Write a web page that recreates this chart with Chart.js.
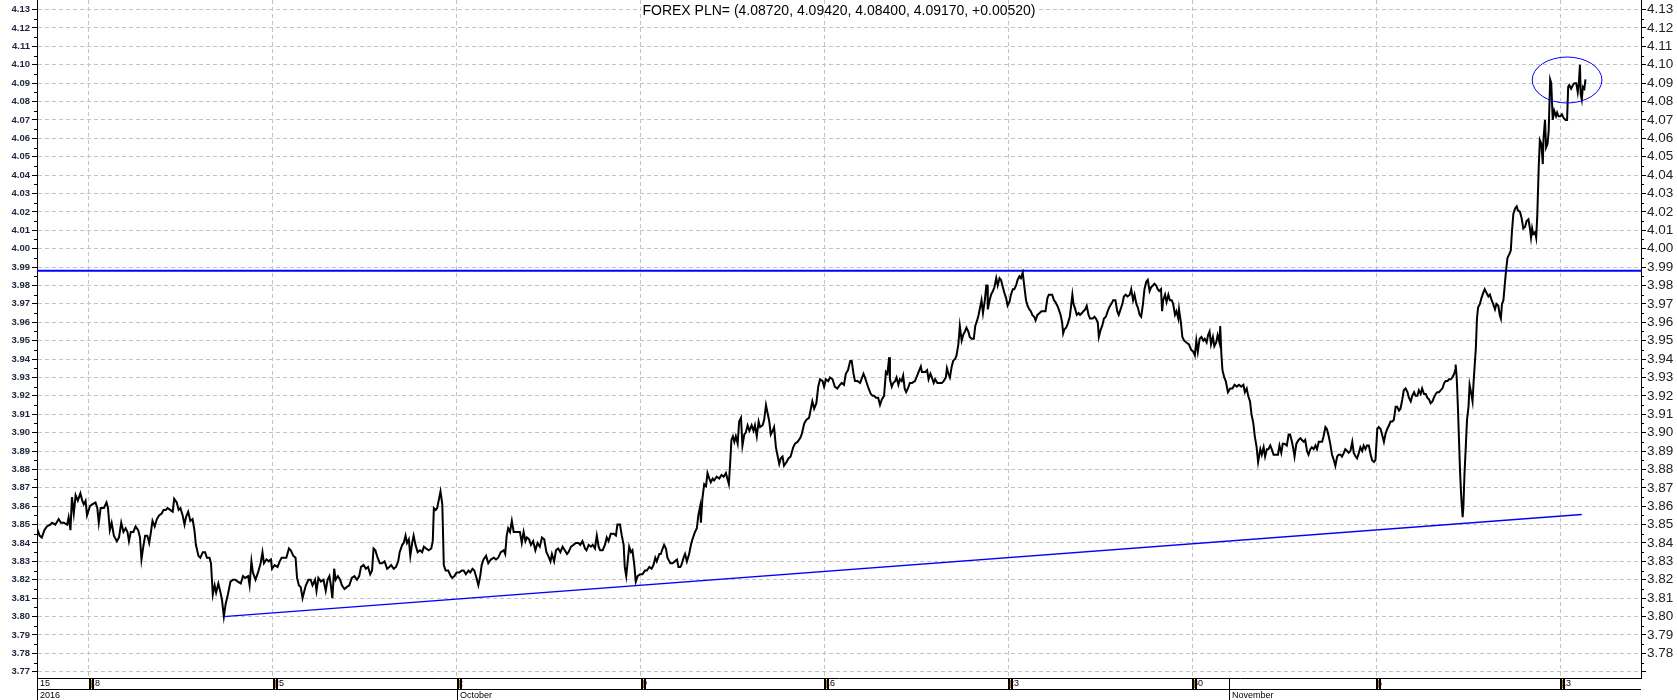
<!DOCTYPE html>
<html>
<head>
<meta charset="utf-8">
<script src="https://cdn.jsdelivr.net/npm/chart.js@4.4.1/dist/chart.umd.min.js"></script>
<style>
html, body { margin: 0; padding: 0; background: #fff; }
canvas { display: block; }
</style>
</head>
<body>
<canvas id="fx" width="1677" height="700"></canvas>
<script>
// x = trading days counted from Thu 15 Sep 2016 (5 per week), y = USD/PLN
var days = [
  // 15 Sep - 30 Sep
  0.59,0.66,0.72,0.79,0.86,0.95,1.00,1.09,1.18,1.24,
  1.32,1.41,1.45,1.50,1.54,1.59,1.64,1.70,1.77,1.82,
  1.86,1.91,1.95,2.03,2.09,2.18,2.23,2.27,2.32,2.41,
  2.48,2.52,2.57,2.62,2.68,2.76,2.82,2.88,2.94,3.00,
  3.05,3.09,3.14,3.21,3.27,3.34,3.39,3.43,3.48,3.53,
  3.59,3.64,3.68,3.73,3.79,3.85,3.91,3.98,4.03,4.09,
  4.14,4.21,4.28,4.32,4.39,4.44,4.49,4.55,4.60,4.64,
  4.70,4.76,4.82,4.87,4.91,4.98,5.03,5.10,5.16,5.21,
  5.28,5.32,5.37,5.42,5.46,5.52,5.58,5.62,5.67,5.72,
  5.78,5.85,5.92,5.98,6.05,6.13,6.19,6.25,6.33,6.37,
  6.42,6.46,6.53,6.60,6.67,6.72,6.76,6.83,6.89,6.95,
  6.98,7.05,7.13,7.19,7.24,7.31,7.37,7.44,7.49,7.56,
  7.62,7.66,7.71,7.76,7.81,7.86,7.90,7.97,8.03,8.08,
  8.15,8.19,8.24,8.31,8.38,8.44,8.49,8.54,8.58,8.62,
  8.67,8.71,8.77,8.83,8.88,8.95,9.01,9.08,9.15,9.22,
  9.29,9.35,9.40,9.47,9.53,9.59,9.65,9.70,9.74,9.79,
  9.85,9.91,9.97,10.04,10.11,10.17,10.22,10.29,10.35,10.41,
  10.45,10.52,10.56,10.61,10.65,10.70,10.74,10.79,10.83,10.88,
  10.94,11.00,11.06,11.11,11.17,11.24,11.31,11.35,11.38,11.43,
  11.47,11.52,11.56,11.61,11.65,11.70,11.77,11.84,11.88,
  // October
  11.94,12.00,12.07,12.14,12.19,12.25,12.32,12.37,12.43,12.48,
  12.54,12.59,12.64,12.68,12.73,12.80,12.86,12.93,13.01,13.07,
  13.13,13.20,13.28,13.32,13.36,13.40,13.45,13.50,13.55,13.61,
  13.68,13.72,13.77,13.82,13.87,13.91,13.97,14.02,14.08,14.14,
  14.20,14.26,14.32,14.38,14.44,14.49,14.55,14.59,14.65,14.70,
  14.76,14.82,14.88,14.94,15.00,15.04,15.11,15.18,15.24,15.31,
  15.36,15.42,15.49,15.53,15.59,15.65,15.70,15.76,15.81,15.86,
  15.90,15.97,16.03,16.08,16.13,16.19,16.27,16.33,16.37,16.44,
  16.49,16.54,16.57,16.61,16.65,16.69,16.74,16.78,16.83,16.87,
  16.92,16.99,17.05,17.12,17.17,17.24,17.30,17.35,17.40,17.44,
  17.51,17.55,17.60,17.64,17.69,17.73,17.81,17.87,17.93,17.99,
  18.03,18.08,18.11,18.17,18.21,18.26,18.32,18.37,18.41,18.48,
  18.53,18.57,18.62,18.64,18.68,18.73,18.78,18.82,18.87,18.91,
  18.96,19.00,19.07,19.14,19.20,19.26,19.32,19.36,19.40,19.44,
  19.47,19.51,19.55,19.59,19.64,19.68,19.73,19.77,19.82,19.86,
  19.91,19.96,20.02,20.07,20.11,20.16,20.21,20.25,20.32,20.36,
  20.41,20.45,20.50,20.54,20.59,20.63,20.68,20.72,20.77,20.81,
  20.86,20.90,20.97,21.02,21.08,21.15,21.20,21.27,21.34,21.38,
  21.45,21.51,21.58,21.63,21.67,21.72,21.78,21.83,21.88,21.95,
  21.99,22.04,22.10,22.15,22.22,22.28,22.35,22.42,22.47,22.53,
  22.58,22.64,22.70,22.74,22.79,22.83,22.90,22.97,
  23.06,23.10,23.15,23.20,23.26,23.31,23.35,23.40,23.46,23.51,
  23.56,23.62,23.67,23.71,23.76,23.78,23.83,23.87,23.92,23.96,
  24.01,24.05,24.10,24.14,24.18,24.22,24.27,24.32,24.38,24.46,
  24.52,24.56,24.62,24.65,24.70,24.74,24.79,24.83,24.88,24.92,
  24.97,25.01,25.07,25.13,25.19,25.24,25.30,25.33,25.37,25.41,
  25.46,25.50,25.55,25.59,25.64,25.68,25.73,25.77,25.82,25.86,
  25.91,25.95,26.00,26.06,26.10,26.15,26.19,26.24,26.27,26.31,
  26.36,26.40,26.43,26.44,26.49,26.53,26.58,26.62,26.67,26.71,
  26.76,26.80,26.85,26.89,26.94,26.98,27.03,27.07,27.12,27.16,
  27.21,27.25,27.30,27.34,27.39,27.43,27.48,27.52,27.57,27.61,
  27.65,27.70,27.74,27.79,27.85,27.90,27.97,28.01,28.06,28.10,
  28.15,28.19,28.24,28.28,28.33,28.37,28.42,28.46,28.49,28.52,
  28.57,28.61,28.67,28.70,28.74,28.77,28.82,28.86,28.91,28.95,
  29.00,29.04,29.09,29.13,29.18,29.22,29.29,29.34,29.38,29.43,
  29.46,29.51,29.55,29.60,29.65,29.70,29.74,29.80,29.85,29.91,
  29.96,30.00,30.05,30.10,30.14,30.19,30.24,30.30,30.34,30.39,
  30.43,30.48,30.52,30.57,30.61,30.66,30.70,30.75,30.79,30.84,
  30.88,30.93,30.97,31.02,31.06,31.10,31.15,31.18,31.21,31.26,
  31.30,31.35,31.39,31.44,31.48,31.53,31.57,31.62,31.64,31.69,
  31.73,31.78,31.84,31.91,31.97,32.03,32.07,32.11,32.15,32.20,
  32.25,32.30,32.34,32.39,32.43,32.47,32.51,32.56,32.60,32.65,
  32.69,32.74,32.76,32.79,32.82,32.87,32.91,32.97,
  // November
  33.03,33.09,33.15,33.21,33.27,33.33,33.39,33.43,33.48,33.52,
  33.57,33.61,33.66,33.70,33.75,33.79,
  33.85,33.89,33.94,33.98,34.03,34.07,34.12,34.16,34.21,34.25,
  34.33,34.37,34.42,34.46,34.51,34.57,34.62,34.66,34.71,34.75,
  34.78,34.83,34.89,34.94,34.98,35.03,35.07,35.12,35.16,35.21,
  35.25,35.30,35.35,35.39,35.44,35.53,35.57,35.62,35.66,35.71,
  35.75,35.80,35.85,35.89,35.94,35.98,36.03,36.07,36.12,36.16,
  36.21,36.25,36.30,36.35,36.39,36.44,36.48,36.53,36.57,36.62,
  36.66,36.71,36.75,36.80,36.85,36.89,36.94,36.98,37.03,37.07,
  37.12,37.16,37.21,37.25,37.30,37.35,37.39,37.44,37.48,37.53,
  37.57,37.62,37.66,37.71,37.75,37.80,37.85,37.89,37.94,37.98,
  38.03,38.07,38.12,38.16,38.21,38.25,38.30,38.35,38.39,38.44,
  38.48,38.53,38.57,38.62,38.66,38.71,38.75,38.80,38.85,38.89,
  38.94,38.98,39.03,39.07,39.12,39.15,39.16,39.19,39.22,39.25,
  39.28,39.31,39.35,39.37,39.40,39.44,39.47,39.51,39.54,39.57,
  39.62,39.65,39.68,39.71,39.74,39.77,39.82,39.86,39.91,39.95,
  40.00,40.05,40.09,40.14,40.18,40.23,40.27,40.32,40.36,40.39,
  40.42,40.46,40.49,40.53,40.57,40.62,40.66,40.69,40.73,40.78,
  40.82,40.85,40.91,40.95,41.00,41.05,41.09,41.14,41.18,41.21,
  41.24,41.27,41.32,41.35,41.38,41.42,41.45,41.49,41.53,41.55,
  41.59,41.62,41.66,41.69,41.73,41.76,41.80,41.84,41.89,41.92,
  41.96,42.01,42.05,42.10,42.15,42.19,42.22,42.25,42.30,42.35,
  42.39,42.44,42.48,42.51,42.54,42.56,42.59,42.62,42.66,42.69
];
var rate = [
  3.848,3.844,3.843,3.847,3.849,3.850,3.851,3.850,3.853,3.851,
  3.851,3.850,3.854,3.847,3.865,3.856,3.866,3.863,3.867,3.863,
  3.861,3.863,3.855,3.860,3.861,3.862,3.859,3.851,3.859,3.859,
  3.862,3.859,3.847,3.851,3.844,3.841,3.843,3.851,3.846,3.848,
  3.846,3.841,3.846,3.846,3.849,3.847,3.843,3.831,3.838,3.844,
  3.844,3.840,3.845,3.852,3.849,3.853,3.855,3.856,3.858,3.858,
  3.859,3.858,3.857,3.864,3.862,3.858,3.859,3.855,3.850,3.854,
  3.857,3.852,3.853,3.847,3.839,3.833,3.832,3.835,3.835,3.832,
  3.832,3.829,3.812,3.817,3.813,3.818,3.813,3.809,3.800,3.807,
  3.812,3.819,3.820,3.820,3.819,3.818,3.822,3.821,3.822,3.817,
  3.830,3.824,3.820,3.824,3.829,3.835,3.829,3.831,3.830,3.831,
  3.826,3.828,3.827,3.830,3.832,3.832,3.832,3.837,3.836,3.833,
  3.832,3.821,3.817,3.816,3.810,3.814,3.817,3.820,3.820,3.817,
  3.820,3.814,3.821,3.819,3.820,3.814,3.820,3.822,3.817,3.810,
  3.826,3.820,3.822,3.820,3.817,3.815,3.816,3.817,3.821,3.822,
  3.820,3.822,3.827,3.828,3.826,3.827,3.823,3.825,3.837,3.836,
  3.832,3.829,3.829,3.830,3.826,3.827,3.828,3.826,3.827,3.830,
  3.835,3.839,3.840,3.844,3.840,3.842,3.833,3.840,3.844,3.839,
  3.835,3.836,3.835,3.838,3.837,3.836,3.837,3.841,3.859,3.858,
  3.859,3.864,3.868,3.861,3.828,3.825,3.825,3.822,3.821,
  // October
  3.822,3.824,3.824,3.825,3.825,3.823,3.825,3.824,3.826,3.825,
  3.821,3.817,3.822,3.828,3.831,3.833,3.829,3.831,3.832,3.831,
  3.832,3.835,3.836,3.834,3.844,3.848,3.846,3.852,3.846,3.846,
  3.846,3.846,3.840,3.846,3.841,3.843,3.842,3.839,3.841,3.836,
  3.840,3.838,3.843,3.842,3.835,3.833,3.830,3.834,3.830,3.836,
  3.837,3.835,3.838,3.836,3.834,3.835,3.838,3.839,3.840,3.840,
  3.839,3.841,3.837,3.836,3.839,3.838,3.839,3.837,3.844,3.838,
  3.836,3.836,3.839,3.843,3.841,3.845,3.845,3.844,3.850,3.850,
  3.844,3.839,3.827,3.822,3.830,3.838,3.835,3.836,3.828,3.819,
  3.822,3.823,3.823,3.825,3.825,3.827,3.826,3.828,3.832,3.830,
  3.834,3.834,3.837,3.839,3.837,3.832,3.829,3.829,3.830,3.831,
  3.827,3.827,3.828,3.832,3.834,3.830,3.834,3.839,3.842,3.846,
  3.848,3.855,3.860,3.851,3.864,3.872,3.871,3.878,3.875,3.873,
  3.875,3.874,3.876,3.875,3.877,3.876,3.878,3.875,3.872,3.885,
  3.896,3.898,3.895,3.898,3.894,3.906,3.908,3.893,3.899,3.900,
  3.904,3.901,3.904,3.901,3.904,3.898,3.906,3.903,3.904,3.907,
  3.915,3.911,3.906,3.899,3.901,3.903,3.892,3.888,3.883,3.886,
  3.887,3.882,3.884,3.886,3.887,3.892,3.894,3.895,3.897,3.899,
  3.905,3.907,3.908,3.913,3.917,3.913,3.916,3.925,3.929,3.928,
  3.925,3.929,3.928,3.930,3.929,3.925,3.924,3.926,3.927,3.926,
  3.932,3.934,3.939,3.939,3.932,3.928,3.928,3.927,
  3.932,3.930,3.927,3.924,3.921,3.920,3.920,3.919,3.919,3.915,
  3.918,3.920,3.933,3.932,3.941,3.929,3.925,3.927,3.928,3.930,
  3.926,3.929,3.928,3.931,3.924,3.922,3.924,3.927,3.927,3.928,
  3.931,3.933,3.936,3.933,3.933,3.933,3.934,3.929,3.932,3.930,
  3.927,3.929,3.927,3.927,3.927,3.928,3.930,3.935,3.932,3.930,
  3.936,3.939,3.940,3.942,3.948,3.958,3.950,3.953,3.955,3.957,
  3.955,3.952,3.951,3.951,3.958,3.961,3.964,3.969,3.972,3.965,
  3.972,3.980,3.980,3.967,3.972,3.975,3.977,3.979,3.984,3.980,
  3.984,3.983,3.979,3.976,3.973,3.969,3.971,3.975,3.978,3.978,
  3.980,3.983,3.985,3.984,3.987,3.980,3.972,3.969,3.967,3.966,
  3.964,3.963,3.961,3.964,3.965,3.966,3.966,3.966,3.973,3.975,
  3.975,3.975,3.972,3.971,3.969,3.967,3.964,3.960,3.954,3.956,
  3.957,3.959,3.963,3.968,3.975,3.970,3.967,3.964,3.965,3.964,
  3.965,3.966,3.967,3.969,3.964,3.962,3.962,3.963,3.962,3.960,
  3.952,3.956,3.958,3.962,3.963,3.966,3.968,3.970,3.972,3.972,
  3.966,3.964,3.967,3.970,3.974,3.975,3.974,3.975,3.978,3.972,
  3.975,3.970,3.968,3.964,3.963,3.970,3.978,3.982,3.983,3.977,
  3.979,3.980,3.981,3.980,3.978,3.977,3.978,3.966,3.972,3.975,
  3.971,3.975,3.972,3.972,3.970,3.964,3.966,3.962,3.967,3.960,
  3.952,3.950,3.949,3.948,3.945,3.944,3.942,3.950,3.944,3.951,
  3.952,3.950,3.951,3.949,3.953,3.955,3.948,3.952,3.947,3.949,
  3.953,3.949,3.958,3.943,3.934,3.930,3.928,3.922,
  // November
  3.924,3.924,3.926,3.925,3.926,3.925,3.926,3.922,3.924,3.920,
  3.917,3.910,3.905,3.898,3.892,3.884,
  3.891,3.888,3.892,3.887,3.891,3.891,3.893,3.891,3.888,3.888,
  3.888,3.893,3.889,3.894,3.894,3.893,3.899,3.899,3.895,3.891,
  3.887,3.894,3.896,3.897,3.896,3.895,3.896,3.890,3.888,3.891,
  3.892,3.891,3.893,3.891,3.895,3.895,3.898,3.903,3.902,3.898,
  3.894,3.888,3.885,3.882,3.887,3.888,3.888,3.887,3.889,3.891,
  3.890,3.889,3.890,3.895,3.889,3.887,3.886,3.889,3.892,3.890,
  3.893,3.891,3.893,3.893,3.888,3.885,3.884,3.885,3.902,3.903,
  3.902,3.899,3.895,3.899,3.902,3.904,3.906,3.906,3.907,3.914,
  3.914,3.912,3.913,3.918,3.923,3.924,3.922,3.919,3.917,3.920,
  3.922,3.920,3.920,3.923,3.921,3.924,3.921,3.921,3.919,3.918,
  3.916,3.917,3.919,3.921,3.922,3.922,3.923,3.924,3.927,3.928,
  3.928,3.929,3.929,3.930,3.932,3.934,3.937,3.930,3.915,3.897,
  3.879,3.866,3.854,3.859,3.877,3.894,3.907,3.914,3.926,3.923,
  3.917,3.928,3.937,3.946,3.962,3.968,3.970,3.973,3.976,3.978,
  3.976,3.974,3.975,3.972,3.970,3.967,3.970,3.969,3.964,3.962,
  3.970,3.972,3.979,3.988,3.995,3.997,3.999,4.009,4.019,4.022,
  4.023,4.021,4.020,4.017,4.011,4.012,4.015,4.016,4.011,4.006,
  4.011,4.008,4.009,4.006,4.018,4.045,4.059,4.057,4.046,4.060,
  4.070,4.055,4.057,4.064,4.092,4.090,4.070,4.075,4.072,4.074,
  4.072,4.072,4.073,4.071,4.070,4.070,4.088,4.089,4.087,4.089,
  4.090,4.090,4.085,4.090,4.100,4.084,4.081,4.088,4.087,4.092
];

// axis range and ticks
var xMin = 0.59, xMax = 44.2;
var yMin = 3.7666, yMax = 4.1352;
var weekTicks  = [2, 7, 12, 17, 22, 27, 32, 37, 42];
var weekLabels = ['18', '25', '2', '9', '16', '23', '30', '6', '13'];
var firstDayLabel = '15';
var monthTicks  = [xMin, 12, 33];
var monthLabels = ['2016', 'October', 'November'];
var yTicks = [];
for (var k = 377; k <= 413; k++) yTicks.push(k / 100);

// drawn studies
var resistance = 3.988;
var trendStart = [5.66, 3.800];
var trendEnd   = [42.59, 3.8555];
var ring = { x: 42.19, y: 4.0917, rx: 0.948, ry: 0.0125 };
var title = 'FOREX PLN= (4.08720, 4.09420, 4.08400, 4.09170, +0.00520)';

var FONT = 'Liberation Sans, Arial, sans-serif';

var series = days.map(function (d, i) { return { x: d, y: rate[i] }; });

function line(ctx, x1, y1, x2, y2) {
  ctx.beginPath(); ctx.moveTo(x1, y1); ctx.lineTo(x2, y2); ctx.stroke();
}

var decor = {
  id: 'decor',
  afterDraw: function (chart) {
    var ctx = chart.ctx, a = chart.chartArea;
    var xs = chart.scales.x, ys = chart.scales.y;
    ctx.save();

    // minor ticks on both price axes
    ctx.strokeStyle = '#000'; ctx.lineWidth = 1;
    for (var k = 377; k < 413; k++) {
      var py = Math.round(ys.getPixelForValue((k + 0.5) / 100)) + 0.5;
      line(ctx, a.left - 3, py, a.left, py);
      line(ctx, a.right, py, a.right + 3, py);
    }

    // circle round the last highs
    var cx = xs.getPixelForValue(ring.x), cy = ys.getPixelForValue(ring.y);
    var rx = xs.getPixelForValue(ring.x + ring.rx) - cx;
    var ry = cy - ys.getPixelForValue(ring.y + ring.ry);
    ctx.strokeStyle = '#0000ff'; ctx.lineWidth = 1;
    ctx.beginPath(); ctx.ellipse(cx, cy, rx, ry, 0, 0, Math.PI * 2); ctx.stroke();

    // title, sitting on the top grid line
    ctx.font = '14px ' + FONT;
    var tw = ctx.measureText(title).width;
    var tx = (a.left + a.right) / 2 - tw / 2;
    ctx.fillStyle = '#fff';
    ctx.fillRect(tx - 1, 7, tw + 2, 6);
    ctx.fillStyle = '#000';
    ctx.textBaseline = 'middle';
    ctx.fillText(title, tx, 11);

    // date rows under the plot
    var r0 = a.bottom, r1 = a.bottom + 11, r2 = chart.height;
    ctx.strokeStyle = '#000'; ctx.lineWidth = 1;
    line(ctx, a.left, r1 + 0.5, a.right, r1 + 0.5);
    line(ctx, a.left + 0.5, r0, a.left + 0.5, r2);
    ctx.font = '9px ' + FONT;
    ctx.fillStyle = '#000';
    ctx.textBaseline = 'middle';
    ctx.fillText(firstDayLabel, a.left + 3, r0 + 6);
    weekTicks.forEach(function (t, i) {
      var px = Math.round(xs.getPixelForValue(t));
      // first digit sits under the week marker, as in the source chart
      ctx.fillStyle = '#000';
      ctx.fillText(weekLabels[i], px + 1, r0 + 6);
      ctx.fillRect(px, r0, 2, r1 - r0);
      ctx.fillStyle = '#b8860b';
      ctx.fillRect(px + 2, r0 + 2, 1, r1 - r0 - 3);
      ctx.fillStyle = '#000';
      ctx.fillRect(px + 3, r0, 2, r1 - r0);
    });
    monthTicks.forEach(function (t, i) {
      var px = Math.round(xs.getPixelForValue(t));
      if (i > 0) line(ctx, px + 0.5, r0, px + 0.5, r2);
      ctx.fillText(monthLabels[i], px + 3, r1 + 6.5);
    });
    ctx.restore();
  }
};

var yAxisBase = function (pos) {
  return {
    type: 'linear', position: pos, min: yMin, max: yMax,
    afterBuildTicks: function (s) { s.ticks = yTicks.map(function (v) { return { value: v }; }); },
    border: { display: true, color: '#000', width: 1, dash: [4, 3] },
    grid: { color: '#c4c4c4', lineWidth: 1, tickColor: '#000', tickLength: 5, drawOnChartArea: pos === 'left' }
  };
};

var yLeft = yAxisBase('left');
yLeft.afterFit = function (s) { s.width = 37; s.paddingTop = 0; s.paddingBottom = 0; };
yLeft.ticks = {
  autoSkip: false, padding: 2, color: '#1c2440',
  font: { family: FONT, size: 9.5, weight: 'bold' },
  callback: function (v) { return v.toFixed(2); }
};

var yRight = yAxisBase('right');
yRight.afterFit = function (s) { s.width = 36; s.paddingTop = 0; s.paddingBottom = 0; };
yRight.ticks = {
  autoSkip: false, padding: 1, color: '#222',
  font: { family: FONT, size: 13.5 },
  callback: function (v) { return v < 3.775 ? '' : v.toFixed(2); }
};

new Chart(document.getElementById('fx').getContext('2d'), {
  type: 'line',
  data: {
    datasets: [
      { data: series, borderColor: '#000', borderWidth: 2, pointRadius: 0, tension: 0, yAxisID: 'y' },
      { data: [{ x: trendStart[0], y: trendStart[1] }, { x: trendEnd[0], y: trendEnd[1] }],
        borderColor: '#0000ff', borderWidth: 1.3, pointRadius: 0, yAxisID: 'y' },
      { data: [{ x: xMin, y: resistance }, { x: xMax, y: resistance }],
        borderColor: '#0000ff', borderWidth: 2, pointRadius: 0, yAxisID: 'y' }
    ]
  },
  options: {
    responsive: false,
    animation: false,
    devicePixelRatio: 1,
    layout: { padding: 0 },
    plugins: { legend: { display: false }, tooltip: { enabled: false } },
    scales: {
      x: {
        type: 'linear', min: xMin, max: xMax,
        afterBuildTicks: function (s) { s.ticks = weekTicks.map(function (v) { return { value: v }; }); },
        afterFit: function (s) { s.height = 22; s.paddingLeft = 0; s.paddingRight = 0; },
        ticks: { display: false },
        border: { display: true, color: '#000', width: 1, dash: [4, 3] },
        grid: { color: '#c4c4c4', lineWidth: 1, drawTicks: false }
      },
      y: yLeft,
      y2: yRight
    }
  },
  plugins: [decor]
});
</script>
</body>
</html>
